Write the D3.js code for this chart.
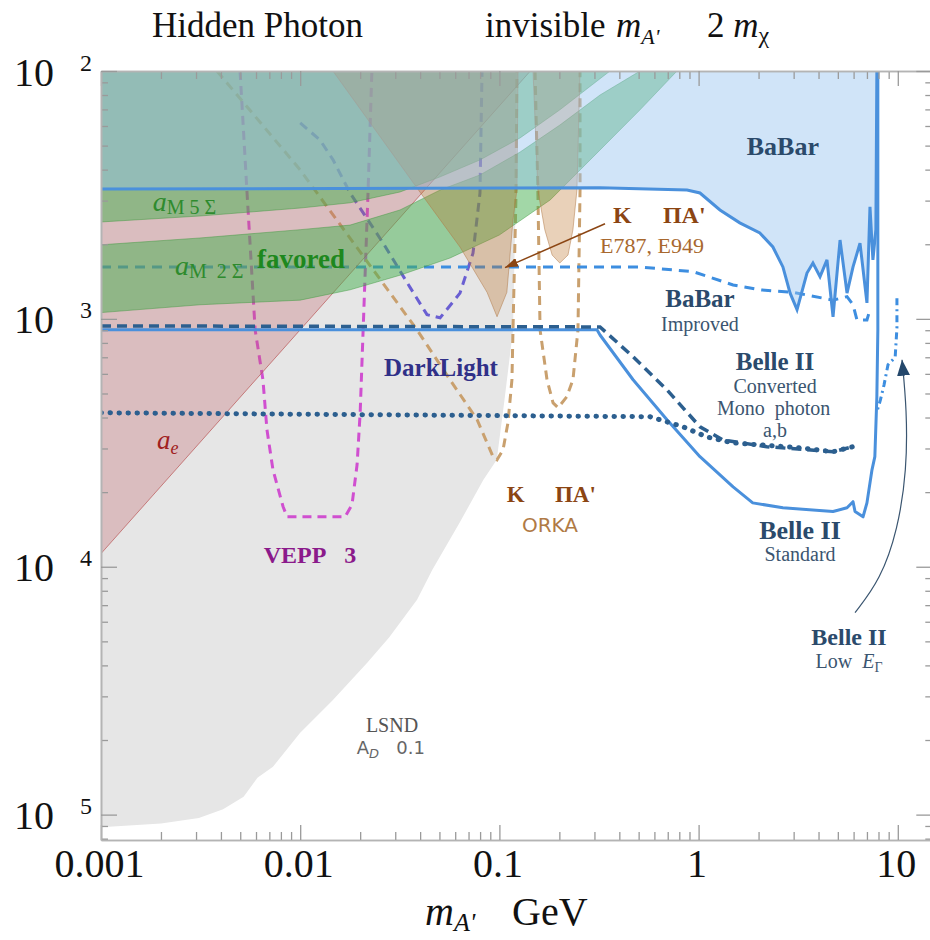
<!DOCTYPE html>
<html>
<head>
<meta charset="utf-8">
<script src="https://cdn.jsdelivr.net/npm/d3@7.9.0/dist/d3.min.js"></script>
<style>
  body { margin: 0; background: #fff; }
  svg { display: block; font-family: 'Liberation Serif', 'Times New Roman', 'DejaVu Serif', serif; }
  .axis path, .axis line { stroke: #9a9a9a; stroke-width: 1.3; }
  .axis .domain { stroke: #b4b4b4; stroke-width: 1.6; }
</style>
</head>
<body>
<svg id="chart" width="930" height="940"></svg>
<script>
// axis ranges (GeV, epsilon)
const xMin = 0.001, xMax = 14.9;
const yMin = 7.9e-6, yMax = 1e-2;

const xMajor = [0.001, 0.01, 0.1, 1, 10];
const xLabels = ['0.001', '0.01', '0.1', '1', '10'];
const yMajor = [1e-5, 1e-4, 1e-3, 1e-2];
const yLabels = ['5', '4', '3', '2'];

// excluded regions, [mass, epsilon]
const lsndEdge = [[0.001, 8.9e-6], [0.002, 9.2e-6], [0.0031, 9.7e-6], [0.0041, 1.05e-5], [0.0052, 1.18e-5],
  [0.0061, 1.41e-5], [0.0073, 1.56e-5], [0.01, 2.14e-5], [0.0146, 2.9e-5], [0.0217, 4.1e-5], [0.028, 5.2e-5],
  [0.0386, 7.36e-5], [0.046, 9.7e-5], [0.063, 1.5e-4], [0.083, 2.24e-4], [0.097, 2.7e-4], [0.106, 4.7e-4],
  [0.117, 9e-4], [0.121, 3.3e-3], [0.122, 1e-2]];
const aeEdge = [[0.001, 1.13e-4], [0.04, 3.16e-3], [0.143, 1e-2]];
const amu5sigma = [[0.001, 2.46e-3], [0.00314, 2.6e-3], [0.01, 2.8e-3], [0.0178, 2.94e-3], [0.0317, 3.25e-3],
  [0.0504, 3.74e-3], [0.08, 4.38e-3], [0.127, 5.37e-3], [0.201, 6.97e-3], [0.359, 1e-2]];
const amuFavUpper = [[0.001, 1.99e-3], [0.00314, 2.12e-3], [0.01, 2.29e-3], [0.0178, 2.39e-3], [0.0317, 2.75e-3],
  [0.0504, 3.31e-3], [0.08, 3.81e-3], [0.127, 4.71e-3], [0.201, 6.05e-3], [0.32, 8.0e-3], [0.508, 1e-2]];
const amuFavLower = [[0.001, 1.06e-3], [0.00314, 1.14e-3], [0.01, 1.19e-3], [0.0178, 1.31e-3], [0.0317, 1.5e-3],
  [0.0565, 1.76e-3], [0.1, 2.18e-3], [0.18, 3.02e-3], [0.32, 4.8e-3], [0.508, 6.97e-3], [0.779, 1e-2]];
const e787Left = [[0.0146, 1e-2], [0.0399, 3.25e-3], [0.0634, 1.95e-3], [0.0867, 1.28e-3], [0.0973, 1.02e-3],
  [0.109, 1.28e-3], [0.117, 2.5e-3], [0.1225, 3.31e-3], [0.124, 1e-2]];
const e787Right = [[0.1475, 1e-2], [0.156, 3.31e-3], [0.169, 2.29e-3], [0.184, 1.81e-3], [0.201, 1.68e-3],
  [0.221, 1.81e-3], [0.234, 2.29e-3], [0.245, 3.31e-3], [0.254, 1e-2]];
const babar = [[0.001, 3.34e-3], [0.32, 3.38e-3], [0.875, 3.31e-3], [1.016, 3.22e-3], [1.28, 2.75e-3],
  [1.61, 2.44e-3], [2.03, 2.22e-3], [2.36, 1.95e-3], [2.65, 1.62e-3], [2.88, 1.27e-3], [3.12, 1.09e-3],
  [3.5, 1.53e-3], [3.75, 1.68e-3], [4.07, 1.48e-3], [4.41, 1.73e-3], [4.73, 1.02e-3], [5.13, 2.08e-3],
  [5.56, 1.27e-3], [5.96, 1.62e-3], [6.46, 2.02e-3], [7.0, 1.16e-3], [7.25, 2.83e-3], [7.5, 1.73e-3],
  [7.76, 2.29e-3], [7.85, 1e-2]];

// projections
const babarImproved = [[0.001, 1.62e-3], [0.508, 1.62e-3], [0.94, 1.55e-3], [1.49, 1.37e-3], [2.03, 1.31e-3],
  [2.98, 1.28e-3], [4.73, 1.19e-3], [5.56, 1.23e-3], [5.96, 1.14e-3], [6.24, 9.9e-4], [7.0, 9.9e-4], [7.25, 1.09e-3]];
const belleStandard = [[0.001, 9.03e-4], [0.309, 9.03e-4], [0.32, 8.61e-4], [0.469, 5.68e-4], [0.694, 3.92e-4],
  [1.016, 2.78e-4], [1.49, 2.1e-4], [1.87, 1.81e-4], [2.65, 1.73e-4], [4.73, 1.67e-4], [5.56, 1.73e-4],
  [5.96, 1.83e-4], [6.1, 1.67e-4], [6.69, 1.59e-4], [7.0, 1.81e-4], [7.42, 2.46e-4], [7.67, 2.78e-4],
  [7.85, 4.85e-4], [7.94, 9.03e-4], [7.94, 1e-2]];
const belleConverted = [[0.001, 9.37e-4], [0.32, 9.28e-4], [0.469, 7.03e-4], [0.694, 5.17e-4], [1.016, 3.67e-4],
  [1.32, 3.25e-4], [2.2, 3.05e-4], [4.73, 2.91e-4], [5.96, 3.05e-4]];
const belleMono = [[0.001, 4.18e-4], [0.57, 4.03e-4], [0.835, 3.67e-4], [1.1, 3.34e-4], [1.49, 3.16e-4],
  [3.23, 3.02e-4], [4.73, 2.91e-4], [5.96, 3.05e-4]];
const belleLowE = [[9.9, 1.21e-3], [9.9, 9.2e-4], [9.7, 7.0e-4], [8.93, 6.53e-4], [8.53, 5.42e-4],
  [8.18, 4.71e-4], [7.85, 4.22e-4]];
const vepp3 = [[0.00499, 1e-2], [0.00541, 3.22e-3], [0.00594, 9.03e-4], [0.0065, 5.68e-4], [0.00681, 3.57e-4],
  [0.0073, 2.46e-4], [0.0082, 1.75e-4], [0.00859, 1.59e-4], [0.0168, 1.59e-4], [0.0182, 1.78e-4],
  [0.0193, 2.58e-4], [0.02, 4.18e-4], [0.0207, 9.03e-4], [0.0219, 3.22e-3], [0.0229, 1e-2]];
const darkLight = [[0.01, 6.17e-3], [0.01257, 5.27e-3], [0.01462, 4.38e-3], [0.0178, 3.22e-3], [0.0261, 2.02e-3],
  [0.0356, 1.34e-3], [0.0433, 1.04e-3], [0.0504, 1.01e-3], [0.0634, 1.27e-3], [0.0737, 1.84e-3],
  [0.0799, 3.22e-3], [0.0818, 1e-2]];
const orkaLeft = [[0.00382, 1e-2], [0.01, 3.99e-3], [0.0386, 9.03e-4], [0.0565, 5.68e-4], [0.0773, 3.92e-4],
  [0.0929, 2.78e-4], [0.0973, 2.7e-4], [0.1043, 2.96e-4], [0.1104, 3.81e-4], [0.1156, 5.68e-4],
  [0.117, 9.03e-4], [0.121, 3.02e-3], [0.1225, 1e-2]];
const orkaRight = [[0.151, 1e-2], [0.156, 3.31e-3], [0.16, 9.03e-4], [0.1734, 5.68e-4], [0.186, 4.58e-4],
  [0.197, 4.38e-4], [0.218, 4.85e-4], [0.234, 5.68e-4], [0.248, 9.03e-4], [0.254, 3.31e-3], [0.254, 1e-2]];

// annotation arrows
const e787Arrow = [[0.339, 2.42e-3], [0.1067, 1.61e-3]];
const lowEArrow = [[6.1, 6.53e-5], [8.18, 8.87e-5], [10.0, 1.41e-4], [11.1, 2.46e-4], [11.1, 4.3e-4], [10.5, 6.84e-4]];

const svg = d3.select('#chart');
const serif = "'Liberation Serif', 'Times New Roman', serif";
const x = d3.scaleLog().domain([xMin, xMax]).range([101, 101 + 199.2 * Math.log10(xMax / xMin)]);
const y = d3.scaleLog().domain([yMin, yMax]).range([840, 71]);
const line = d3.line().x((d) => x(d[0])).y((d) => y(d[1]));
const sp = (n) => '\u00a0'.repeat(n);

const defs = svg.append('defs');
defs.append('clipPath').attr('id', 'plot')
  .append('rect')
  .attr('x', x(xMin)).attr('y', y(yMax))
  .attr('width', x(xMax) - x(xMin)).attr('height', y(yMin) - y(yMax));

function arrowMarker(id, color, w, h) {
  defs.append('marker').attr('id', id)
    .attr('viewBox', `0 0 ${w} ${h}`).attr('refX', w).attr('refY', h / 2)
    .attr('markerWidth', w).attr('markerHeight', h).attr('markerUnits', 'userSpaceOnUse')
    .attr('orient', 'auto')
    .append('path').attr('d', `M0,0L${w},${h / 2}L0,${h}Z`).attr('fill', color);
}
arrowMarker('brownHead', '#8b4513', 13, 9);
arrowMarker('blueHead', '#24476b', 16, 13);

const plot = svg.append('g').attr('clip-path', 'url(#plot)');

// LSND
plot.append('path')
  .attr('d', line([[xMin, yMax], ...lsndEdge]) + 'Z')
  .attr('fill', '#e6e6e6');

// projected reaches, drawn under the shaded regions
const dashed = [
  { pts: vepp3, color: '#d04fd0', dash: '9,6', w: 3 },
  { pts: darkLight, color: '#6a5fd2', dash: '9,6', w: 3 },
  { pts: orkaLeft, color: '#c9a06e', dash: '9,6', w: 3 },
  { pts: orkaRight, color: '#c9a06e', dash: '9,6', w: 3 },
  { pts: babarImproved, color: '#3d8ee0', dash: '10,7', w: 3 },
  { pts: belleLowE, color: '#3d8ee0', dash: '7,4,2,4', w: 3 },
];
dashed.forEach((s) => {
  plot.append('path')
    .attr('d', line(s.pts))
    .attr('fill', 'none')
    .attr('stroke', s.color)
    .attr('stroke-width', s.w)
    .attr('stroke-dasharray', s.dash);
});

// a_e
plot.append('path')
  .attr('d', line([[xMin, yMax], ...aeEdge]) + 'Z')
  .attr('fill', 'rgba(193,97,103,0.3)')
  .attr('stroke', 'rgba(185,85,85,0.7)').attr('stroke-width', 1);

// a_mu 5 sigma
plot.append('path')
  .attr('d', line([[xMin, yMax], ...amu5sigma]) + 'Z')
  .attr('fill', 'rgba(70,175,80,0.5)')
  .attr('stroke', 'rgba(60,150,60,0.45)').attr('stroke-width', 1);

// a_mu favored band
plot.append('path')
  .attr('d', line([...amuFavUpper, ...amuFavLower.slice().reverse()]) + 'Z')
  .attr('fill', 'rgba(70,175,80,0.5)')
  .attr('stroke', 'rgba(60,150,60,0.45)').attr('stroke-width', 1);

// E787 / E949
[e787Left, e787Right].forEach((pts) => {
  plot.append('path')
    .attr('d', line(pts) + 'Z')
    .attr('fill', 'rgba(187,116,44,0.33)')
    .attr('stroke', 'rgba(175,120,70,0.5)').attr('stroke-width', 1);
});

// BaBar
plot.append('path')
  .attr('d', line([[xMin, yMax], ...babar]) + 'Z')
  .attr('fill', 'rgba(150,195,240,0.45)');
plot.append('path')
  .attr('d', line(babar))
  .attr('fill', 'none').attr('stroke', '#4a90dc').attr('stroke-width', 3);

// Belle II
plot.append('path')
  .attr('d', line(belleStandard))
  .attr('fill', 'none').attr('stroke', '#4a90dc').attr('stroke-width', 3).attr('stroke-linejoin', 'round');
plot.append('path')
  .attr('d', line(belleConverted))
  .attr('fill', 'none').attr('stroke', '#2c5f8f').attr('stroke-width', 3.5).attr('stroke-dasharray', '10,6');
plot.append('path')
  .attr('d', line(belleMono))
  .attr('fill', 'none').attr('stroke', '#2c5f8f').attr('stroke-width', 5)
  .attr('stroke-linecap', 'round').attr('stroke-dasharray', '0.5,8.5');

// frame and ticks
function minorTicks(lo, hi) {
  const out = [];
  for (let e = Math.floor(Math.log10(lo)); e <= Math.ceil(Math.log10(hi)); e++) {
    for (let k = 2; k <= 9; k++) {
      const v = k * Math.pow(10, e);
      if (v > lo && v < hi) out.push(v);
    }
  }
  return out;
}
const xMinor = minorTicks(xMin, xMax);
const yMinor = minorTicks(yMin, yMax);

function axisPair(axisFn, scale, tr, major, minor, big, small) {
  svg.append('g').attr('class', 'axis').attr('transform', tr)
    .call(axisFn(scale).tickValues(minor).tickSize(-small).tickSizeOuter(0).tickFormat(''));
  svg.append('g').attr('class', 'axis').attr('transform', tr)
    .call(axisFn(scale).tickValues(major).tickSize(-big).tickSizeOuter(0).tickFormat(''));
}
axisPair(d3.axisBottom, x, `translate(0,${y(yMin)})`, xMajor, xMinor, 15, 8);
axisPair(d3.axisTop, x, `translate(0,${y(yMax)})`, xMajor, xMinor, 15, 8);
axisPair(d3.axisLeft, y, `translate(${x(xMin)},0)`, yMajor, yMinor, 16, 7);
axisPair(d3.axisRight, y, `translate(${x(xMax)},0)`, yMajor, yMinor, 16, 7);

// tick labels
svg.append('g').attr('transform', `translate(0,${y(yMin)})`)
  .call(d3.axisBottom(x).tickValues(xMajor).tickSize(0).tickFormat((d, i) => xLabels[i]))
  .call((g) => g.select('.domain').remove())
  .selectAll('text')
  .attr('x', -2).attr('y', 37).attr('dy', 0)
  .attr('font-size', 40).attr('font-family', serif).attr('fill', '#111');

svg.append('g').attr('transform', `translate(${x(xMin)},0)`)
  .call(d3.axisLeft(y).tickValues(yMajor).tickSize(0).tickFormat(''))
  .call((g) => g.select('.domain').remove())
  .selectAll('.tick')
  .each(function (d, i) {
    const t = d3.select(this);
    t.append('text').text('10')
      .attr('x', -87).attr('y', 14).attr('text-anchor', 'start')
      .attr('font-size', 40).attr('font-family', serif).attr('fill', '#111');
    t.append('text').text(yLabels[i])
      .attr('x', -21).attr('y', -1).attr('text-anchor', 'start')
      .attr('font-size', 24).attr('font-family', serif).attr('fill', '#111');
  });

// titles
const title = svg.append('g').attr('font-size', 35).attr('fill', '#111');
title.append('text').attr('x', 152).attr('y', 37).text('Hidden Photon');
title.append('text').attr('x', 485).attr('y', 37).text('invisible');
const t1 = title.append('text').attr('x', 616).attr('y', 37);
t1.append('tspan').attr('font-style', 'italic').text('m');
t1.append('tspan').attr('font-style', 'italic').attr('font-size', 22).attr('dy', 7).text("A'");
const t2 = title.append('text').attr('x', 707).attr('y', 37);
t2.append('tspan').text('2' + sp(1));
t2.append('tspan').attr('font-style', 'italic').text('m');
t2.append('tspan').attr('font-size', 24).attr('dy', 6).text('χ');

const xt = svg.append('text').attr('x', 425).attr('y', 925).attr('font-size', 40).attr('fill', '#111');
xt.append('tspan').attr('font-style', 'italic').text('m');
xt.append('tspan').attr('font-style', 'italic').attr('font-size', 26).attr('dy', 6).text("A'");
xt.append('tspan').attr('x', 512).attr('dy', -6).text('GeV');

// labels
const labels = svg.append('g');
function note(m, e, anchor, size, color, parts, opts = {}) {
  const t = labels.append('text')
    .attr('x', x(m)).attr('y', y(e))
    .attr('text-anchor', anchor)
    .attr('font-size', size)
    .attr('fill', color)
    .attr('font-weight', opts.bold ? 'bold' : 'normal');
  if (opts.family) t.attr('font-family', opts.family);
  parts.forEach((p) => {
    if (typeof p === 'string') { t.append('tspan').text(p); return; }
    const s = t.append('tspan').text(p.t);
    if (p.i) s.attr('font-style', 'italic');
    if (p.s) s.attr('font-size', p.s);
    if (p.dy) s.attr('dy', p.dy);
  });
}
const navy = '#2b4a6b', navySub = '#3b5570';
note(2.65, 4.58e-3, 'middle', 26, navy, ['BaBar'], { bold: true });
note(1.016, 1.12e-3, 'middle', 25, navy, ['BaBar'], { bold: true });
note(1.016, 8.9e-4, 'middle', 20, navySub, ['Improved']);
note(0.372, 2.44e-3, 'start', 24, '#8b4513', ['K'], { bold: true });
note(0.662, 2.44e-3, 'start', 24, '#8b4513', ["ΠA'"], { bold: true });
note(0.32, 1.84e-3, 'start', 22, '#a8682e', ['E787, E949']);
note(2.42, 6.2e-4, 'middle', 25, navy, ['Belle II'], { bold: true });
note(2.42, 5.04e-4, 'middle', 20, navySub, ['Converted']);
note(2.38, 4.1e-4, 'middle', 20, navySub, ['Mono' + sp(2) + 'photon']);
note(2.42, 3.34e-4, 'middle', 20, navySub, ['a,b']);
note(3.23, 1.29e-4, 'middle', 26, navy, ['Belle II'], { bold: true });
note(3.23, 1.05e-4, 'middle', 20, navySub, ['Standard']);
note(5.69, 4.85e-5, 'middle', 24, navy, ['Belle II'], { bold: true });
note(5.69, 3.9e-5, 'middle', 20, navySub, ['Low' + sp(2), { t: 'E', i: true }, { t: 'Γ', s: 14, dy: 4 }]);
note(0.0509, 5.89e-4, 'middle', 25, '#303088', ['DarkLight'], { bold: true });
note(0.0112, 1.04e-4, 'middle', 24, '#8b1a8b', ['VEPP' + sp(3) + '3'], { bold: true });
note(0.109, 1.83e-4, 'start', 23, '#8b4513', ['K'], { bold: true });
note(0.19, 1.83e-4, 'start', 23, '#8b4513', ["ΠA'"], { bold: true });
note(0.1795, 1.38e-4, 'middle', 20, '#b07a45', ['ORKA'], { family: "'DejaVu Sans', sans-serif" });
note(0.0289, 2.16e-5, 'middle', 20, '#555', ['LSND']);
note(0.0285, 1.75e-5, 'middle', 18, '#666',
  ['A', { t: 'D', i: true, s: 13, dy: 4 }, { t: sp(3) + '0.1', dy: -4 }], { family: "'DejaVu Sans', sans-serif" });
note(0.00191, 2.99e-4, 'start', 27, '#a02020', [{ t: 'a', i: true }, { t: 'e', i: true, s: 18, dy: 5 }]);
note(0.00182, 2.73e-3, 'start', 28, '#2e8b2e', [{ t: 'a', i: true }, { t: 'M' + sp(1) + '5' + sp(1) + 'Σ', s: 20, dy: 3 }]);
note(0.00235, 1.5e-3, 'start', 28, '#2e8b2e', [{ t: 'a', i: true }, { t: 'M' + sp(2) + '2' + sp(1) + 'Σ', s: 20, dy: 3 }]);
note(0.00607, 1.61e-3, 'start', 27, '#1e881e', ['favored'], { bold: true });

// arrows
svg.append('path')
  .attr('d', line(e787Arrow))
  .attr('fill', 'none').attr('stroke', '#8b4513').attr('stroke-width', 1.5)
  .attr('marker-end', 'url(#brownHead)');
svg.append('path')
  .attr('d', line.curve(d3.curveBasis)(lowEArrow))
  .attr('fill', 'none').attr('stroke', '#3a5570').attr('stroke-width', 1.2)
  .attr('marker-end', 'url(#blueHead)');
</script>
</body>
</html>
